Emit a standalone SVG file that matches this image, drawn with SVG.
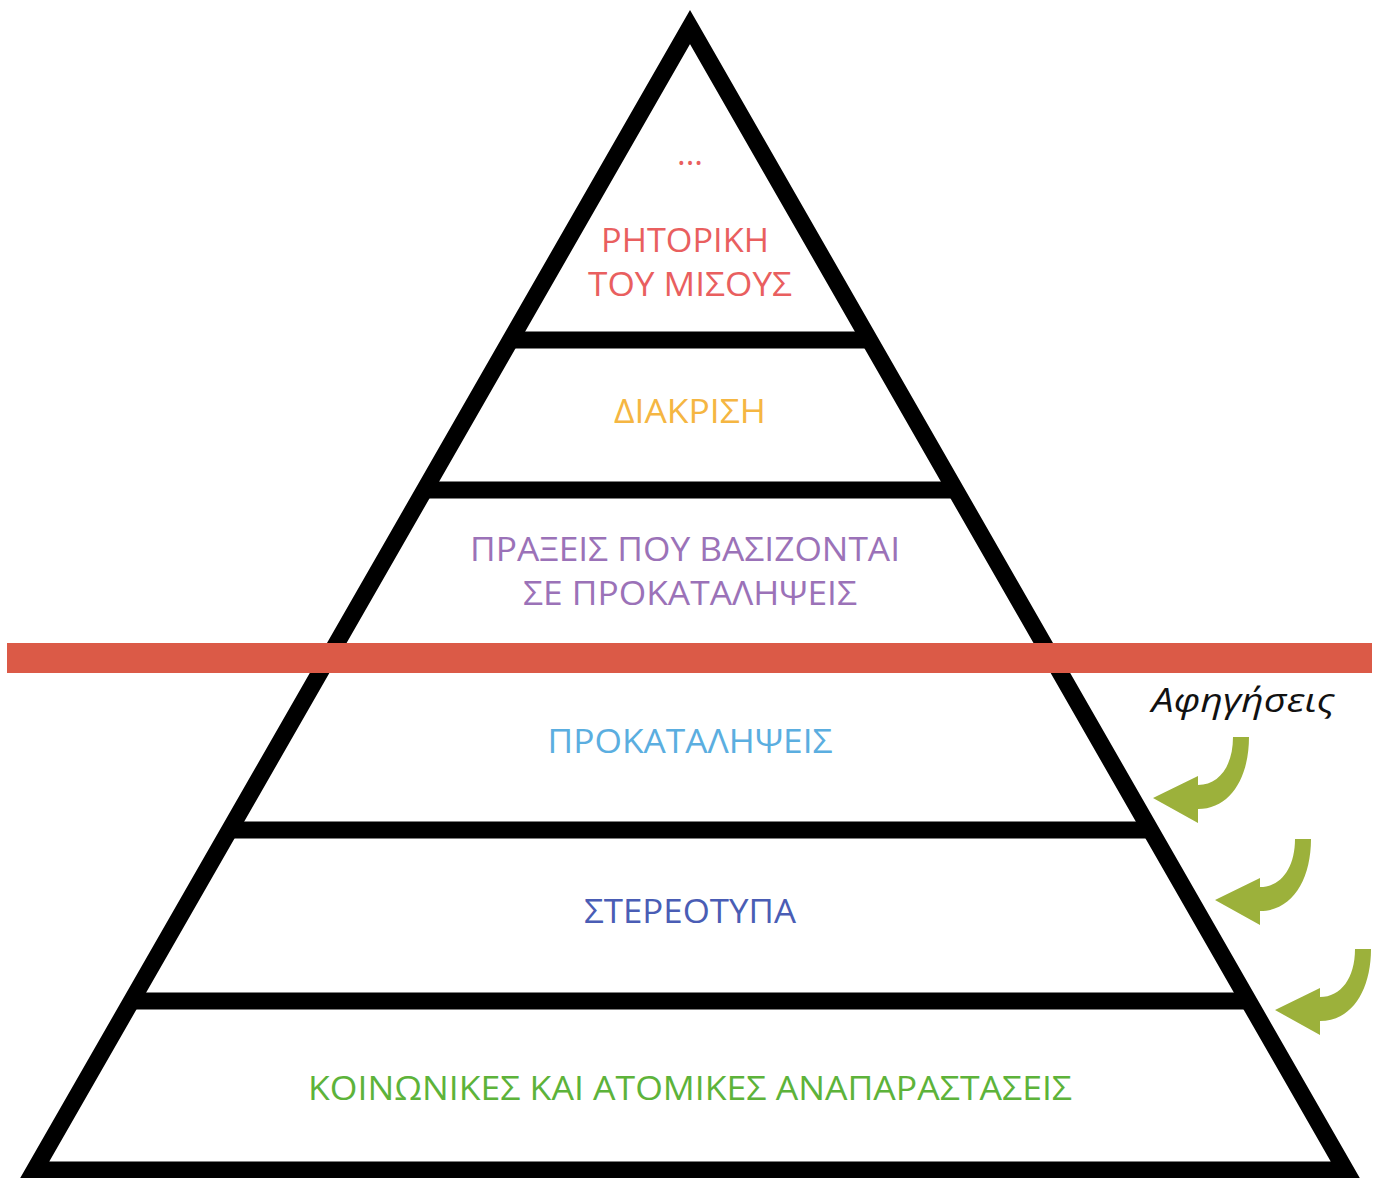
<svg xmlns="http://www.w3.org/2000/svg" width="1379" height="1178" viewBox="0 0 1379 1178">
  <style>
    .lbl { font-family: "Open Sans", "Noto Sans", "DejaVu Sans", sans-serif; font-size: 33px; text-anchor: middle; }
    .edge { fill: none; stroke: #000; stroke-width: 17; stroke-linejoin: miter; stroke-miterlimit: 4; }
    .arrow { fill: #9CB13B; }
  </style>
  <defs>
    <path id="curvedArrow" d="M80,-61 L96,-61 C96,-20 77,11 45,11 L45,25 L0,0 L45,-22 L45,-13 C66,-13 80,-32 80,-61 Z"/>
  </defs>
  <rect width="1379" height="1178" fill="#fff"/>

  <g id="connectors">
    <polygon class="edge" points="690,27 1345.4,1170 34.6,1170"/>
    <line class="edge" x1="510" y1="340" x2="870" y2="340"/>
    <line class="edge" x1="424" y1="490" x2="956" y2="490"/>
    <line class="edge" x1="229" y1="830" x2="1151" y2="830"/>
    <line class="edge" x1="130" y1="1001" x2="1250" y2="1001"/>
  </g>

  <g id="level-top">
    <text class="lbl" x="690" y="165" fill="#E95F5F" font-size="18">...</text>
    <text class="lbl" x="685" y="252" fill="#E95F5F" textLength="168" lengthAdjust="spacingAndGlyphs">ΡΗΤΟΡΙΚΗ</text>
    <text class="lbl" x="690" y="296" fill="#E95F5F" textLength="204" lengthAdjust="spacingAndGlyphs">ΤΟΥ ΜΙΣΟΥΣ</text>
  </g>
  <g id="level-diakrisi">
    <text class="lbl" x="690" y="423" fill="#F5B642" textLength="152" lengthAdjust="spacingAndGlyphs">ΔΙΑΚΡΙΣΗ</text>
  </g>
  <g id="level-praxeis">
    <text class="lbl" x="685" y="561" fill="#9B72B8" textLength="430" lengthAdjust="spacingAndGlyphs">ΠΡΑΞΕΙΣ ΠΟΥ ΒΑΣΙΖΟΝΤΑΙ</text>
    <text class="lbl" x="690" y="605" fill="#9B72B8" textLength="334" lengthAdjust="spacingAndGlyphs">ΣΕ ΠΡΟΚΑΤΑΛΗΨΕΙΣ</text>
  </g>
  <g id="divider">
    <rect x="7" y="643" width="1365" height="30" fill="#DB5A47"/>
  </g>
  <g id="level-prokatalipseis">
    <text class="lbl" x="690" y="753" fill="#5BAEE0" textLength="285" lengthAdjust="spacingAndGlyphs">ΠΡΟΚΑΤΑΛΗΨΕΙΣ</text>
  </g>
  <g id="level-stereotypa">
    <text class="lbl" x="690" y="923" fill="#4A5DB5" textLength="212" lengthAdjust="spacingAndGlyphs">ΣΤΕΡΕΟΤΥΠΑ</text>
  </g>
  <g id="level-base">
    <text class="lbl" x="690" y="1100" fill="#5DB33A" textLength="764" lengthAdjust="spacingAndGlyphs">ΚΟΙΝΩΝΙΚΕΣ ΚΑΙ ΑΤΟΜΙΚΕΣ ΑΝΑΠΑΡΑΣΤΑΣΕΙΣ</text>
  </g>
  <g id="narratives">
    <text class="lbl" x="1243" y="712" fill="#111" font-style="italic" font-size="34" textLength="183" lengthAdjust="spacingAndGlyphs">Αφηγήσεις</text>
    <use href="#curvedArrow" class="arrow" transform="translate(1153,798)"/>
    <use href="#curvedArrow" class="arrow" transform="translate(1215,900)"/>
    <use href="#curvedArrow" class="arrow" transform="translate(1275,1010)"/>
  </g>
</svg>
